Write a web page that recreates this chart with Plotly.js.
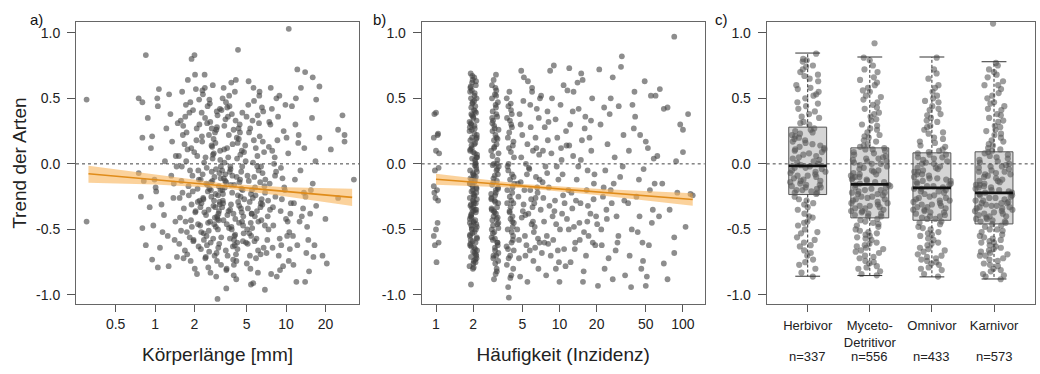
<!DOCTYPE html>
<html>
<head>
<meta charset="utf-8">
<script src="https://cdn.plot.ly/plotly-3.0.1.min.js"></script>
<style>html,body{margin:0;padding:0;background:#fff;}#chart{width:1040px;height:374px;}</style>
</head>
<body>
<div id="chart"></div>
<script>
// ---------------- Panel a: body length (mm) vs species trend ----------------
const aLength = [
  1.12,0.93,1.41,1.05,1.33,0.97,1.22,1.47,1.01,1.28, 1.38,1.09,0.95,1.44,1.17,1.31,0.99,1.25,1.46,1.07,
  1.19,1.43,1.02,1.35,0.91,1.27,1.49,1.14,1.39,1.04,
  1.62,1.95,1.53,2.14,1.78,2.03,1.68,1.87,2.19,1.57, 1.91,1.73,2.08,1.59,1.84,2.17,1.66,1.99,1.76,2.11,
  2.05,1.55,1.81,2.15,1.7,1.93,1.63,2.01,1.89,1.75, 1.6,2.12,1.86,1.71,2.07,1.97,1.52,1.8,2.18,1.65,
  1.83,2.04,1.58,1.94,1.74,2.1,1.69,2.16,1.88,1.61, 1.96,1.77,2.13,1.64,1.9,2.02,1.54,1.85,2.09,1.72,
  2.34,2.81,2.47,3.05,2.62,2.23,2.95,2.71,3.16,2.54, 2.88,2.41,3.1,2.66,2.29,2.99,2.76,2.51,3.19,2.37,
  2.58,3.02,2.26,2.84,2.44,3.13,2.69,2.92,2.32,2.78, 3.08,2.49,2.73,2.21,2.97,2.6,3.18,2.39,2.86,2.65,
  2.43,2.9,2.27,3.04,2.56,2.8,2.35,3.14,2.68,2.5, 2.83,2.31,3.11,2.6,2.97,2.45,2.75,3.2,2.53,2.89,
  2.24,2.94,2.63,3.07,2.4,2.79,2.55,3.0,2.33,2.71, 3.15,2.57,2.85,2.28,2.98,2.46,3.09,2.7,2.38,2.93,
  2.52,3.03,2.36,2.77,2.22,2.91,2.64,3.17,2.42,2.82, 2.67,2.3,3.06,2.48,2.87,2.59,3.12,2.25,2.74,2.96,
  3.41,4.12,3.67,4.55,3.28,3.93,4.31,3.55,4.72,3.82, 4.04,3.35,4.45,3.74,4.18,3.22,4.63,3.88,3.47,4.27,
  3.62,4.38,3.31,4.07,3.79,4.69,3.5,4.21,3.97,3.38, 4.5,3.7,4.15,3.44,4.78,3.85,3.25,4.41,3.6,4.0,
  3.91,4.59,3.34,4.24,3.77,4.34,3.53,4.66,3.99,3.43, 4.1,3.58,4.48,3.29,3.86,4.75,3.66,4.2,3.39,4.53,
  3.73,4.29,3.48,4.02,4.62,3.25,3.95,4.43,3.57,4.14, 3.37,4.06,3.8,4.57,3.52,4.23,3.68,4.7,3.3,3.9,
  4.36,3.64,4.09,3.45,4.8,3.76,4.26,3.33,3.98,4.46, 3.83,4.6,3.27,4.17,3.56,4.39,3.72,4.01,3.49,4.64,
  5.12,6.3,4.95,5.7,6.85,5.38,6.05,5.02,6.52,5.55, 6.18,5.25,6.7,5.85,4.88,6.4,5.46,6.95,5.65,6.1,
  5.33,6.6,5.08,5.95,6.25,5.5,6.9,5.18,6.45,5.78, 6.75,5.6,5.0,6.35,5.9,5.28,6.65,5.42,6.0,5.15,
  5.72,6.48,5.22,6.12,5.58,6.8,5.05,6.22,5.8,5.35, 6.55,5.48,6.02,5.1,6.38,5.68,6.92,5.3,6.15,5.88,
  5.2,6.28,5.52,6.62,5.75,4.92,6.42,5.62,6.08,5.4,
  7.3,8.6,10.2,7.8,9.4,7.1,8.2,10.8,9.0,7.6, 9.8,8.0,7.4,10.5,8.9,7.95,9.6,7.2,8.4,10.0,
  8.7,7.5,10.4,9.2,7.7,8.3,10.9,9.9,7.25,8.8, 10.6,7.65,9.1,8.1,9.7,7.35,10.1,8.5,9.3,7.9,
  8.25,9.5,7.45,10.3,8.95,7.85,9.15,10.7,8.45,7.55,
  11.5,13.8,12.2,15.5,11.1,14.5,12.9,16.2,11.8,13.2, 15.0,12.5,14.1,11.3,16.8,13.5,12.0,15.8,11.7,14.8,
  12.7,16.0,11.9,14.3,13.0,15.3,12.4,16.5,11.4,13.7,
  0.3,0.3,0.85,0.75,0.8,0.8,0.78,0.8,0.85,0.95, 1.05,0.82,0.75,0.88,2.0,1.9,4.3,10.5,12.2,14.0,
  16,17,18,18,20,19,20.5,17,22,25, 27,28,28,33,25,3.0,3.5,6.9,5.4,14.0
];
const aTrend = [
  -0.31,0.12,-0.58,0.44,-0.09,-0.47,0.27,-0.71,-0.18,0.53, -0.26,-0.64,0.21,0.06,-0.39,0.38,-0.12,-0.55,-0.02,0.57,
  0.02,-0.44,-0.21,0.17,-0.33,-0.78,0.31,-0.52,-0.15,0.5,
  -0.22,0.41,-0.61,-0.05,0.64,-0.37,0.15,-0.74,-0.28,0.33, -0.48,0.02,0.27,-0.13,-0.56,0.49,-0.34,0.09,-0.69,-0.19,
  0.57,-0.41,-0.24,-0.63,0.36,-0.09,0.22,-0.8,0.12,-0.52, -0.02,-0.29,0.47,-0.44,0.18,-0.58,0.06,-0.17,0.3,-0.72,
  0.39,-0.36,-0.51,-0.21,0.24,0.06,-0.66,-0.12,-0.43,0.55, -0.59,0.11,-0.46,0.29,-0.31,0.68,-0.26,-0.05,-0.84,0.45,
  -0.27,0.08,-0.55,-0.38,0.46,-0.12,-0.68,0.27,-0.2,-0.45, -0.33,0.35,-0.07,-0.6,0.17,-0.42,0.6,-0.16,-0.77,0.01,
  0.22,-0.5,-0.3,-0.1,-0.71,0.42,-0.25,-0.04,0.53,-0.57, -0.36,-0.62,0.13,-0.47,0.28,-0.19,-0.02,0.68,-0.41,-0.83,
  0.05,-0.23,0.39,-0.64,-0.35,0.19,-0.53,0.1,-0.14,0.31, -0.46,-0.08,-0.29,0.49,-0.74,-0.39,0.04,-0.56,-0.21,0.16,
  -0.65,0.26,-0.44,-0.17,0.58,-0.32,-0.79,0.37,-0.26,-0.06, 0.03,-0.51,-0.7,0.21,-0.4,-0.15,-0.61,0.14,-0.37,-0.86,
  0.44,-0.24,-0.58,0.07,-0.33,-0.48,0.32,-0.11,-0.72,-0.28, -0.2,0.56,-0.43,-0.03,0.24,-0.67,-0.31,-0.52,-0.13,0.4,
  -0.18,0.33,-0.49,-0.06,0.5,-0.63,-0.29,0.12,-0.4,0.62, -0.55,-0.11,0.24,-0.35,-0.74,0.41,-0.02,-0.22,-0.66,0.16,
  0.05,-0.45,-0.3,0.55,-0.16,-0.59,-0.81,0.2,-0.38,0.29, -0.25,0.44,-0.69,-0.08,0.09,-0.5,-0.33,-0.14,0.36,-0.77,
  0.15,-0.37,0.58,-0.6,-0.04,0.27,-0.46,-0.2,-0.85,-0.13, -0.42,-0.7,0.07,-0.28,0.38,-0.53,0.22,-0.1,0.01,-0.34,
  -0.57,-0.24,0.47,-0.16,-0.44,-0.05,-0.73,0.3,-0.39,0.64, 0.11,-0.62,-0.31,-0.19,-0.8,0.04,0.52,-0.47,-0.23,-0.09,
  0.19,-0.36,-0.54,0.34,-0.27,-0.02,-0.65,-0.43,0.26,-0.12, -0.48,0.1,-0.2,-0.88,0.43,-0.32,-0.06,-0.58,-0.14,0.39,
  -0.34,0.21,-0.6,0.48,-0.17,-0.45,0.06,-0.76,-0.27,0.33, -0.05,-0.53,0.4,-0.24,0.14,-0.69,-0.38,-0.12,0.58,-0.83,
  0.27,-0.31,-0.09,-0.57,0.52,-0.2,-0.47,0.63,-0.02,-0.4, -0.64,0.01,0.36,-0.14,-0.72,-0.29,0.17,-0.55,-0.36,0.45,
  -0.1,-0.43,0.24,-0.66,-0.26,0.09,-0.5,0.31,-0.18,-0.8, 0.43,-0.38,-0.02,-0.61,-0.33,0.18,-0.22,-0.7,-0.44,0.12,
  -0.13,0.55,-0.49,-0.07,-0.59,0.02,-0.3,-0.91,0.37,-0.23,
  -0.28,0.18,-0.55,0.42,-0.11,-0.68,0.05,-0.38,-0.81,0.3, -0.2,-0.47,0.13,-0.74,0.52,-0.33,0.25,-0.58,-0.06,-0.42,
  0.36,-0.15,0.08,-0.62,-0.84,-0.25,-0.3,0.45,-0.4,-0.7, -0.52,0.58,-0.36,0.0,-0.18,-0.5,0.2,-0.86,-0.27,-0.64,
  -0.09,-0.78,0.32,-0.44,-0.57,0.1,-0.03,-0.65,0.5,-0.35,
  -0.3,0.12,-0.62,-0.2,0.44,-0.48,-0.05,-0.71,0.3,-0.4, -0.82,0.22,-0.25,-0.55,0.02,-0.34,-0.9,0.35,-0.12,-0.58,
  -0.44,-0.15,0.5,-0.68,0.58,-0.38,0.16,-0.62,-0.77,-0.22,
  0.49,-0.44,0.83,0.5,0.47,0.2,-0.25,-0.49,-0.62,-0.73, -0.79,-0.13,-0.07,0.35,0.83,0.8,0.87,1.03,0.72,0.7,
  0.66,0.49,0.59,0.2,-0.42,-0.7,-0.76,-0.32,0.11,0.26, 0.37,0.22,0.17,-0.12,-0.26,-1.03,-0.95,-0.96,-0.92,-0.9
];
const aFitX  = [0.31, 1, 3.5, 10, 32];
const aFitY  = [-0.075, -0.121, -0.17, -0.213, -0.256];
const aFitHi = [-0.015, -0.084, -0.152, -0.178, -0.19];
const aFitLo = [-0.145, -0.158, -0.188, -0.248, -0.322];

// ---------------- Panel b: incidence vs species trend ----------------
const bIncid = [
  1.0,0.97,1.03,0.96,1.04,1.0,0.98,1.05,0.96,1.02, 0.99,1.04,0.97,1.03,1.0,0.96,1.05,0.98,1.01,1.06,
  1.95,2.08,1.89,2.12,2.01,1.92,2.14,1.98,2.05,1.88, 2.03,1.9,2.11,1.96,2.07,1.87,2.13,1.99,2.04,1.93,
  2.1,1.97,1.88,2.06,1.94,2.15,2.0,1.91,2.09,2.02, 1.9,2.12,2.04,1.95,2.08,1.89,2.01,2.14,1.93,2.06,
  1.98,2.13,1.92,2.05,1.88,2.1,1.96,2.03,2.15,1.9, 2.07,1.94,2.11,1.99,1.87,2.04,2.14,1.91,2.02,1.97,
  2.09,1.89,2.0,2.12,1.95,2.06,1.93,2.13,1.88,2.01, 1.92,2.05,2.15,1.97,2.1,1.9,2.03,1.96,2.08,1.94,
  2.02,1.88,2.07,2.13,1.93,1.99,2.11,1.91,2.04,2.14, 1.96,2.09,1.89,2.01,2.12,1.95,2.06,1.88,2.0,2.1,
  2.05,1.93,2.14,1.98,1.9,2.08,2.02,1.94,2.12,1.87, 1.99,2.11,1.92,2.04,2.15,1.89,2.07,1.97,2.1,1.95,
  2.08,1.9,2.01,2.13,1.94,2.06,1.98,2.14,1.91,2.03, 1.93,2.1,2.0,1.88,2.05,2.12,1.96,2.09,2.02,1.92,
  2.95,3.14,2.84,3.05,3.2,2.9,3.09,2.82,3.17,3.0, 3.11,2.87,3.02,3.21,2.93,3.07,2.81,3.15,2.97,3.04,
  2.88,3.19,2.99,3.06,2.83,3.12,2.92,3.03,3.18,2.86, 3.08,2.94,3.16,2.8,3.01,3.13,2.89,3.22,2.96,3.1,
  2.85,3.04,3.2,2.91,3.09,2.98,3.14,2.82,3.06,2.93, 3.17,2.87,3.0,3.12,2.84,3.05,2.95,3.21,2.9,3.08,
  2.97,3.15,2.81,3.03,3.19,2.92,3.1,2.86,3.01,3.13, 3.06,2.89,3.18,2.95,2.83,3.11,2.99,3.2,2.88,3.02,
  2.94,3.07,2.85,3.16,3.0,2.91,3.14,2.8,3.09,2.98,
  3.9,4.18,3.78,4.05,4.26,3.85,4.12,3.95,4.22,3.74, 4.08,3.82,4.2,3.98,3.76,4.15,3.88,4.28,4.02,3.93,
  4.1,3.8,4.24,3.96,4.0,3.86,4.16,3.73,4.06,4.3, 3.84,4.13,3.92,4.21,3.77,4.04,3.99,4.27,3.89,4.11,
  4.17,3.81,4.03,3.94,4.25,3.87,4.09,3.75,4.19,4.01, 3.97,4.14,3.83,4.07,4.23,
  5.12,6.4,4.7,5.8,6.9,5.3,4.9,6.1,5.55,6.65, 6.2,4.85,5.65,6.75,5.05,6.0,4.6,5.4,6.5,5.9,
  4.75,6.3,5.2,6.85,5.75,4.95,6.55,5.45,6.05,5.15, 6.7,5.5,4.65,6.15,5.85,5.25,6.45,4.8,6.95,5.6,
  5.35,6.25,4.9,5.95,6.6,5.0,6.35,5.7,4.55,6.8, 5.8,4.7,6.1,5.3,6.9,5.1,6.4,5.5,4.85,6.0,
  7.4,9.3,8.1,10.6,7.1,8.8,11.4,9.9,7.7,10.1, 8.4,11.0,7.3,9.6,10.9,8.0,11.8,7.9,9.1,10.4,
  7.6,9.4,11.2,8.6,10.2,7.2,9.8,8.3,11.6,7.8, 9.0,10.7,7.5,8.9,11.3,9.5,7.35,10.0,8.2,11.9,
  8.5,10.3,7.05,9.2,11.5,8.7,7.55,10.8,9.7,8.15, 12.0,7.95,9.35,10.5,8.05,
  12.5,15.2,13.4,17.8,14.3,19.0,12.9,16.4,14.8,18.4, 13.1,16.9,12.2,15.7,18.9,14.0,17.2,13.8,16.0,19.5,
  15.0,12.7,18.1,14.5,16.6,13.0,19.8,15.5,12.3,17.5, 14.2,16.2,13.6,18.6,12.0,15.8,17.0,14.9,19.2,13.3,
  16.8,12.8,15.4,18.0,14.6,
  21,26,23,30,20.5,28,24,33,22,27, 31,25,21.5,29,23.5,32,26.5,20.2,34,24.5,
  22.5,28.5,25.5,31.5,21.8,27.5,30.2,23.2,33.5,26, 29.5,24.2,32.5,22.8,27,
  36,41,47,52,38,44,56,40,49,37, 54,43,58,46,39,51,45,57,42,48,
  50,55,36.5,44.5,53,40.5,59,47.5,38.5,50,
  60,65,70,75,85,90,100,110,115,120, 62,68,78,100,85,85,70,75,95,105, 64,88
];
const bTrend = [
  0.39,0.38,0.22,0.2,0.23,0.1,-0.05,-0.03,-0.17,-0.2, -0.26,-0.28,-0.22,-0.45,-0.5,-0.55,-0.6,-0.62,-0.75,0.08,
  0.12,-0.43,0.55,-0.7,-0.08,0.31,-0.27,0.64,-0.52,-0.15, 0.41,-0.61,-0.02,0.2,-0.35,-0.78,0.05,-0.2,0.48,-0.47,
  -0.3,0.67,-0.55,0.27,-0.12,-0.66,0.36,-0.4,0.0,-0.74, 0.58,-0.22,0.15,-0.5,0.44,-0.05,-0.33,0.22,-0.63,0.08,
  -0.17,0.33,-0.71,0.52,-0.45,-0.1,0.62,-0.25,-0.57,0.18, 0.03,-0.38,0.39,-0.8,0.25,-0.14,-0.48,0.69,-0.29,0.46,
  -0.6,0.1,-0.36,-0.04,0.56,-0.68,0.3,-0.19,-0.42,-0.76, 0.5,-0.24,0.07,-0.53,0.6,-0.32,-0.09,0.37,-0.65,0.14,
  -0.44,0.28,-0.13,-0.72,0.43,-0.28,0.19,-0.58,0.66,-0.06, -0.34,0.01,-0.62,0.35,-0.18,-0.49,0.54,-0.26,0.09,-0.69,
  0.23,-0.39,-0.56,0.47,-0.11,0.16,-0.79,-0.21,-0.46,0.32, -0.07,0.63,-0.31,-0.64,0.05,-0.54,0.4,-0.16,-0.37,0.26,
  -0.73,0.11,-0.23,0.5,-0.41,-0.01,-0.59,0.2,0.59,-0.3, 0.38,-0.5,-0.67,-0.15,0.29,-0.35,0.04,-0.75,-0.45,-0.92,
  0.18,-0.46,0.6,-0.22,-0.68,0.33,-0.05,-0.34,0.47,-0.57, -0.13,0.06,-0.76,0.26,-0.4,0.52,-0.26,-0.6,0.13,-0.84,
  0.4,-0.3,-0.09,0.68,-0.5,0.0,-0.7,0.22,-0.18,-0.43, 0.56,-0.36,-0.62,0.1,-0.24,0.36,-0.53,-0.02,0.29,-0.8,
  -0.16,0.45,-0.45,-0.72,0.15,-0.28,0.03,-0.56,-0.38,0.64, -0.08,0.25,-0.64,-0.33,0.5,-0.2,-0.88,0.08,-0.47,0.38,
  -0.52,0.19,-0.27,0.58,-0.74,-0.11,-0.42,0.31,-0.66,-0.04, 0.43,-0.58,-0.19,0.12,-0.35,-0.82,0.27,-0.49,-0.01,-0.29,
  0.0,-0.7,0.35,-0.41,0.53,-0.14,-0.6,-0.23,0.2,-0.37,
  0.12,-0.48,-0.2,0.41,-0.66,-0.05,0.28,-0.37,-0.8,0.5, -0.28,0.2,-0.58,-0.12,0.35,-0.44,-0.72,0.05,-0.33,0.55,
  -0.52,-0.02,0.17,-0.25,-0.87,0.44,-0.4,-0.63,0.3,-0.15, -0.94,-0.08,0.24,-0.55,-0.3,0.09,-0.7,-0.45,-1.02,0.38,
  -0.18,-0.5,0.46,-0.36,-0.1,0.0,-0.6,-0.77,0.14,-0.42, 0.33,-0.22,-0.65,-0.85,-0.3,
  -0.31,0.2,-0.58,0.45,-0.12,-0.7,0.05,-0.44,0.63,-0.22, -0.52,0.3,-0.03,-0.8,-0.36,0.55,-0.15,-0.62,0.12,-0.27,
  0.38,-0.48,-0.2,0.07,-0.66,-0.41,0.42,-0.08,-0.33,0.66, -0.57,0.15,-0.25,-0.74,0.28,-0.55,-0.1,-0.86,0.5,-0.38,
  0.0,-0.3,0.71,-0.46,-0.18,0.22,-0.64,-0.04,-0.5,0.35, -0.2,-0.72,0.1,-0.39,-0.6,0.48,-0.26,-0.9,-0.14,0.58,
  -0.26,0.34,-0.61,-0.08,0.52,-0.4,0.14,-0.75,-0.02,-0.5, 0.71,-0.3,-0.14,0.2,-0.65,0.4,-0.2,-0.55,-0.36,0.03,
  0.28,-0.46,-0.78,0.08,0.45,-0.68,-0.12,-0.32,0.56,-0.85, 0.75,-0.24,-0.44,-0.58,0.25,-0.02,0.1,-0.9,-0.18,-0.5,
  -0.7,0.12,-0.35,-0.28,-0.42,0.5,-0.6,0.6,-0.66,0.32, 0.73,-0.07,-0.8,-0.38,0.18,
  -0.22,0.18,-0.6,-0.38,0.42,-0.15,0.06,-0.7,-0.3,0.5, -0.48,-0.05,0.3,-0.82,-0.27,0.62,-0.55,-0.12,0.27,-0.62,
  0.69,-0.34,0.1,-0.45,-0.2,0.55,-0.4,-0.9,-0.75,0.2, -0.02,0.36,-0.28,-0.6,0.14,-0.52,-0.32,0.03,-0.08,-0.65,
  -0.44,0.4,0.64,0.33,-0.58,
  0.72,-0.2,0.43,-0.55,-0.93,0.05,-0.35,0.22,-0.62,0.66, -0.1,-0.72,0.3,-0.4,-0.05,0.82,-0.3,-0.46,-0.85,0.15,
  -0.25,-0.66,0.38,0.74,-0.5,-0.15,0.44,-0.8,-0.28,0.5, -0.6,-0.42,-0.02,-0.18,-0.88,
  -0.3,0.36,-0.6,0.12,-0.94,-0.12,-0.45,0.27,0.63,-0.7, -0.2,-0.52,0.04,-0.8,0.45,-0.86,0.22,-0.35,-0.25,-0.04,
  -0.93,0.52,0.1,-0.4,-0.62,0.55,-0.15,-0.74,-0.5,0.17,
  0.52,0.57,0.42,0.43,0.97,-0.22,0.26,0.38,-0.23,-0.24, 0.06,-0.15,-0.35,0.09,-0.56,-0.68,-0.76,-0.88,0.3,-0.48, -0.4,0.02
];
const bFitX  = [1, 2, 5, 20, 50, 120];
const bFitY  = [-0.117, -0.139, -0.169, -0.214, -0.244, -0.272];
const bFitHi = [-0.075, -0.11, -0.154, -0.19, -0.208, -0.224];
const bFitLo = [-0.159, -0.168, -0.184, -0.238, -0.28, -0.32];

// ---------------- Panel c: feeding guilds ----------------
const cGroups = ['Herbivor', 'Myceto-<br>Detritivor', 'Omnivor', 'Karnivor'];
const cCounts = ['n=337', 'n=556', 'n=433', 'n=573'];
const cPos    = [1, 2, 3, 4];
const cLow    = [-0.857, -0.852, -0.862, -0.878];
const cQ1     = [-0.234, -0.412, -0.43, -0.458];
const cMedian = [-0.015, -0.157, -0.183, -0.221];
const cQ3     = [0.28, 0.122, 0.084, 0.092];
const cHigh   = [0.845, 0.815, 0.815, 0.779];
const cHerbivor = [
  0.84,0.8,0.78,0.75,0.72,0.7,0.68,0.65,0.6,0.58,0.55,0.52,0.5,0.47,0.44,0.42,0.38,0.35,0.32,0.3,
  0.27,0.25,0.23,0.21,0.2,0.18,0.16,0.15,0.13,0.11,0.1,0.08,0.06,0.05,0.03,0.02,0.0,-0.01,0.19,0.12,
  -0.02,-0.03,-0.05,-0.06,-0.08,-0.09,-0.1,-0.12,-0.13,-0.14,-0.15,-0.17,-0.18,-0.19,-0.2,-0.21,-0.22,-0.23,-0.07,-0.16,
  -0.25,-0.28,-0.31,-0.35,-0.38,-0.41,-0.44,-0.47,-0.5,-0.53,-0.56,-0.6,-0.63,-0.66,-0.7,-0.73,-0.77,-0.8,-0.83,-0.86,
  0.31,0.36,0.4,0.46,0.53,0.57,0.63,0.67,0.74,0.79, 0.26,0.22,0.17,0.14,0.09,0.07,0.04,0.01,0.24,0.11,
  -0.04,-0.06,-0.09,-0.11,-0.13,-0.16,-0.18,-0.2,-0.22,-0.03, -0.27,-0.33,-0.4,-0.45,-0.52,-0.58,-0.62,-0.68,-0.75,-0.3
];
const cMyceto = [
  0.92,0.81,0.79,0.75,0.7,0.66,0.62,0.58,0.55,0.52,0.49,0.45,0.42,0.39,0.36,0.33,0.3,0.27,0.24,0.22,0.2,0.17,0.15,0.13,0.6,
  0.12,0.11,0.1,0.08,0.07,0.05,0.04,0.02,0.01,0.0,-0.01,-0.03,-0.04,-0.05,-0.07,-0.08,-0.09,-0.1,-0.11,-0.12,-0.13,-0.14,-0.15,-0.06,0.03,
  -0.16,-0.17,-0.18,-0.19,-0.2,-0.21,-0.22,-0.23,-0.24,-0.25,-0.27,-0.28,-0.29,-0.3,-0.31,-0.32,-0.33,-0.34,-0.35,-0.36,-0.37,-0.38,-0.39,-0.4,-0.26,
  -0.42,-0.44,-0.46,-0.48,-0.5,-0.52,-0.54,-0.56,-0.58,-0.6,-0.62,-0.64,-0.66,-0.68,-0.7,-0.72,-0.74,-0.76,-0.78,-0.8,-0.82,-0.85,-0.45,-0.55,-0.65,
  0.14,0.18,0.21,0.26,0.29,0.34,0.38,0.43,0.47,0.51,0.56,0.64,0.72, 0.11,0.09,0.06,0.04,0.02,-0.02,-0.05,-0.08,-0.1,-0.12,-0.14,0.0,
  -0.16,-0.18,-0.2,-0.23,-0.25,-0.27,-0.3,-0.32,-0.34,-0.36,-0.38,-0.4,-0.22, -0.43,-0.47,-0.51,-0.53,-0.57,-0.61,-0.63,-0.67,-0.71,-0.75,-0.79,-0.84
];
const cOmnivor = [
  0.81,0.72,0.69,0.65,0.6,0.55,0.52,0.5,0.47,0.44,0.41,0.38,0.35,0.32,0.29,0.26,0.23,0.2,0.17,0.14,0.11,0.09,
  0.08,0.07,0.05,0.04,0.02,0.01,0.0,-0.02,-0.03,-0.05,-0.06,-0.08,-0.09,-0.1,-0.12,-0.13,-0.14,-0.15,-0.16,-0.17,-0.18,-0.04,-0.11,
  -0.19,-0.2,-0.21,-0.22,-0.23,-0.25,-0.26,-0.27,-0.28,-0.3,-0.31,-0.32,-0.33,-0.35,-0.36,-0.37,-0.38,-0.39,-0.4,-0.41,-0.42,-0.29,-0.34,
  -0.44,-0.46,-0.48,-0.5,-0.53,-0.55,-0.57,-0.6,-0.62,-0.64,-0.67,-0.69,-0.71,-0.73,-0.75,-0.77,-0.79,-0.81,-0.86,-0.52,-0.65,-0.74,
  0.1,0.13,0.16,0.19,0.24,0.28,0.33,0.37,0.42,0.48,0.58, 0.07,0.05,0.03,0.0,-0.03,-0.06,-0.08,-0.11,-0.13,-0.15,-0.17,
  -0.19,-0.21,-0.24,-0.26,-0.28,-0.31,-0.33,-0.35,-0.37,-0.4,-0.42, -0.45,-0.49,-0.54,-0.58,-0.61,-0.66,-0.7,-0.72,-0.76,-0.8,-0.84
];
const cKarnivor = [
  1.07,0.77,0.75,0.72,0.7,0.66,0.63,0.6,0.57,0.54,0.5,0.47,0.44,0.41,0.38,0.35,0.32,0.29,0.26,0.23,0.2,0.17,0.14,0.11,0.1,
  0.09,0.07,0.05,0.04,0.02,0.0,-0.01,-0.03,-0.04,-0.06,-0.07,-0.09,-0.1,-0.12,-0.13,-0.14,-0.16,-0.17,-0.18,-0.19,-0.2,-0.21,-0.08,-0.02,-0.15,
  -0.22,-0.23,-0.24,-0.25,-0.26,-0.27,-0.28,-0.29,-0.3,-0.31,-0.32,-0.33,-0.34,-0.35,-0.36,-0.37,-0.38,-0.39,-0.4,-0.41,-0.42,-0.43,-0.44,-0.45,-0.3,
  -0.46,-0.48,-0.5,-0.52,-0.54,-0.56,-0.58,-0.6,-0.62,-0.64,-0.66,-0.68,-0.7,-0.72,-0.74,-0.76,-0.78,-0.8,-0.82,-0.84,-0.86,-0.88,-0.5,-0.6,-0.7,
  0.12,0.15,0.18,0.22,0.25,0.28,0.33,0.37,0.42,0.46,0.52,0.6,0.68, 0.08,0.06,0.03,0.01,-0.02,-0.05,-0.08,-0.11,-0.13,-0.16,-0.18,-0.2,-0.06,
  -0.22,-0.24,-0.26,-0.28,-0.3,-0.32,-0.34,-0.36,-0.38,-0.4,-0.42,-0.44,-0.33, -0.47,-0.51,-0.55,-0.59,-0.63,-0.65,-0.69,-0.73,-0.77,-0.81,-0.85,-0.57,-0.67
];
const cSamples = [cHerbivor, cMyceto, cOmnivor, cKarnivor];

const yTickVals = [-1, -0.5, 0, 0.5, 1];
const yTickText = ['-1.0', '-0.5', '0.0', '0.5', '1.0'];
const aTickVals = [0.5, 1, 2, 5, 10, 20];
const bTickVals = [1, 2, 5, 10, 20, 50, 100];

// ---------------- styling ----------------
const FONT = 'Liberation Sans, Arial, Helvetica, sans-serif';
const PT = 'rgba(65,65,65,0.6)';
const ORANGE = '#E08C1A';
const BAND = 'rgba(248,180,90,0.6)';
const traces = [];

function fitTraces(xa, ya, fx, fy, lo, hi) {
  traces.push({type:'scatter', mode:'lines', x:fx, y:lo, xaxis:xa, yaxis:ya, line:{width:0}, hoverinfo:'skip', showlegend:false});
  traces.push({type:'scatter', mode:'lines', x:fx, y:hi, xaxis:xa, yaxis:ya, line:{width:0}, fill:'tonexty', fillcolor:BAND, hoverinfo:'skip', showlegend:false});
  traces.push({type:'scatter', mode:'lines', x:fx, y:fy, xaxis:xa, yaxis:ya, line:{width:1.6, color:ORANGE}, hoverinfo:'skip', showlegend:false});
}

traces.push({type:'scatter', mode:'markers', x:aLength, y:aTrend, xaxis:'x', yaxis:'y',
  marker:{size:5.8, color:PT, line:{width:0}}, showlegend:false});
fitTraces('x', 'y', aFitX, aFitY, aFitLo, aFitHi);

traces.push({type:'scatter', mode:'markers', x:bIncid, y:bTrend, xaxis:'x2', yaxis:'y2',
  marker:{size:5.8, color:PT, line:{width:0}}, showlegend:false});
fitTraces('x2', 'y2', bFitX, bFitY, bFitLo, bFitHi);

// boxes (precomputed stats, whiskers drawn separately as dashed lines)
traces.push({type:'box', x:cPos, q1:cQ1, median:cMedian, q3:cQ3, lowerfence:cQ1, upperfence:cQ3,
  xaxis:'x3', yaxis:'y3', width:0.61, whiskerwidth:0, boxpoints:false,
  fillcolor:'#d5d5d5', line:{color:'#555', width:1}, hoverinfo:'skip', showlegend:false});

const wx = [], wy = [], capx = [], capy = [], mx = [], my = [];
cPos.forEach((p, i) => {
  wx.push(p, p, null, p, p, null);
  wy.push(cQ3[i], cHigh[i], null, cQ1[i], cLow[i], null);
  capx.push(p - 0.2, p + 0.2, null, p - 0.2, p + 0.2, null);
  capy.push(cHigh[i], cHigh[i], null, cLow[i], cLow[i], null);
  mx.push(p - 0.305, p + 0.305, null);
  my.push(cMedian[i], cMedian[i], null);
});
traces.push({type:'scatter', mode:'lines', x:wx, y:wy, xaxis:'x3', yaxis:'y3',
  line:{color:'#333', width:1, dash:'3px,2px'}, hoverinfo:'skip', showlegend:false});
traces.push({type:'scatter', mode:'lines', x:capx, y:capy, xaxis:'x3', yaxis:'y3',
  line:{color:'#333', width:1}, hoverinfo:'skip', showlegend:false});

cSamples.forEach((s, i) => {
  traces.push({type:'box', x0:cPos[i], y:s, xaxis:'x3', yaxis:'y3', name:'g' + i,
    boxpoints:'all', jitter:1, pointpos:0, width:0.66, whiskerwidth:0,
    fillcolor:'rgba(0,0,0,0)', line:{width:0, color:'rgba(0,0,0,0)'},
    marker:{size:6.2, color:'rgba(85,85,85,0.58)', line:{width:0}}, hoverinfo:'skip', showlegend:false});
});

traces.push({type:'scatter', mode:'lines', x:mx, y:my, xaxis:'x3', yaxis:'y3',
  line:{color:'#111', width:2.8}, hoverinfo:'skip', showlegend:false});

// ---------------- layout ----------------
const YDOM = [0.1864, 0.9412];
const tickFont = {family:FONT, size:14, color:'#222'};
const titleFont = {family:FONT, size:19, color:'#222'};
function yAxis(anchor, title) {
  const ax = {anchor:anchor, domain:YDOM, range:[-1.071, 1.082], tickvals:yTickVals, ticktext:yTickText,
    ticks:'outside', ticklen:8, tickcolor:'#555', showline:true, linecolor:'#666', linewidth:1, mirror:true,
    showgrid:false, zeroline:false, tickfont:tickFont, ticklabelstandoff:4};
  if (title) ax.title = {text:title, font:titleFont, standoff:4};
  return ax;
}
function xBase(anchor, domain) {
  return {anchor:anchor, domain:domain, ticks:'outside', ticklen:7, tickcolor:'#555', showline:true,
    linecolor:'#666', linewidth:1, mirror:true, showgrid:false, zeroline:false, tickfont:tickFont};
}

const xa = xBase('y', [76/1040, 359/1040]);
Object.assign(xa, {type:'log', range:[Math.log10(0.249), Math.log10(36.1)], tickvals:aTickVals,
  ticktext:aTickVals.map(String), title:{text:'Körperlänge [mm]', font:titleFont, standoff:16}});
const xb = xBase('y2', [421.7/1040, 704.7/1040]);
Object.assign(xb, {type:'log', range:[Math.log10(0.766), Math.log10(150)], tickvals:bTickVals,
  ticktext:bTickVals.map(String), title:{text:'Häufigkeit (Inzidenz)', font:titleFont, standoff:16}});
const xc = xBase('y3', [766.7/1040, 1035/1040]);
Object.assign(xc, {range:[0.34, 4.66], tickvals:cPos, ticktext:cGroups, ticklabelstandoff:2,
  tickfont:{family:FONT, size:13, color:'#222'}});

function zeroLine(xref, yref) {
  return {type:'line', xref:xref + ' domain', yref:yref, x0:0, x1:1, y0:0, y1:0,
    line:{color:'#444', width:1, dash:'3px,3px'}, layer:'above'};
}

const annotations = [
  {text:'a)', xref:'paper', yref:'paper', x:36/1040, y:1 - 20/374, xanchor:'center', yanchor:'middle', showarrow:false, font:{family:FONT, size:15, color:'#111'}},
  {text:'b)', xref:'paper', yref:'paper', x:379/1040, y:1 - 20/374, xanchor:'center', yanchor:'middle', showarrow:false, font:{family:FONT, size:15, color:'#111'}},
  {text:'c)', xref:'paper', yref:'paper', x:721/1040, y:1 - 20/374, xanchor:'center', yanchor:'middle', showarrow:false, font:{family:FONT, size:15, color:'#111'}}
];
cCounts.forEach((c, i) => annotations.push({text:c, xref:'x3', yref:'paper', x:cPos[i], y:1 - 356/374,
  xanchor:'center', yanchor:'middle', showarrow:false, font:{family:FONT, size:13, color:'#222'}}));

const layout = {
  width:1040, height:374, margin:{l:0, r:0, t:0, b:0}, paper_bgcolor:'#fff', plot_bgcolor:'#fff',
  font:{family:FONT, color:'#222'}, showlegend:false, boxmode:'overlay',
  xaxis:xa, yaxis:yAxis('x', 'Trend der Arten'),
  xaxis2:xb, yaxis2:yAxis('x2'),
  xaxis3:xc, yaxis3:yAxis('x3'),
  shapes:[zeroLine('x', 'y'), zeroLine('x2', 'y2'), zeroLine('x3', 'y3')],
  annotations:annotations
};

Plotly.newPlot('chart', traces, layout, {staticPlot:true, displayModeBar:false});
</script>
</body>
</html>
